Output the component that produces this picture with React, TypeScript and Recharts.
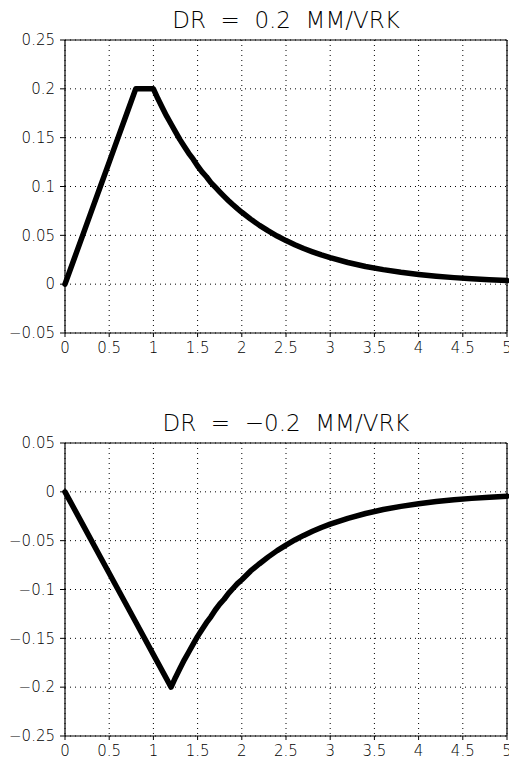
import React from "react";
import { LineChart, Line, XAxis, YAxis, CartesianGrid } from "recharts";

// upper panel: DR = 0.2
const xTop = [0, 0.1, 0.2, 0.3, 0.4, 0.5, 0.6, 0.7, 0.8, 0.9, 1.0, 1.05, 1.1, 1.15, 1.2, 1.25, 1.3, 1.35, 1.4, 1.45, 1.5, 1.55, 1.6, 1.65, 1.7, 1.75, 1.8, 1.85, 1.9, 1.95, 2.0, 2.1, 2.2, 2.3, 2.4, 2.5, 2.6, 2.7, 2.8, 2.9, 3.0, 3.2, 3.4, 3.6, 3.8, 4.0, 4.2, 4.4, 4.6, 4.8, 5.0];
const yTop = [0, 0.025, 0.05, 0.075, 0.1, 0.125, 0.15, 0.175, 0.2, 0.2, 0.2, 0.19, 0.181, 0.172, 0.164, 0.156, 0.148, 0.141, 0.134, 0.128, 0.121, 0.115, 0.11, 0.104, 0.0993, 0.0945, 0.0899, 0.0855, 0.0813, 0.0773, 0.0736, 0.0666, 0.0602, 0.0545, 0.0493, 0.0446, 0.0404, 0.0365, 0.0331, 0.0299, 0.0271, 0.0222, 0.0181, 0.0149, 0.0122, 0.01, 0.0082, 0.0067, 0.0055, 0.0045, 0.0037];

// lower panel: DR = -0.2
const xBot = [0, 0.2, 0.4, 0.6, 0.8, 1.0, 1.2, 1.25, 1.3, 1.35, 1.4, 1.45, 1.5, 1.55, 1.6, 1.65, 1.7, 1.75, 1.8, 1.85, 1.9, 1.95, 2.0, 2.1, 2.2, 2.3, 2.4, 2.5, 2.6, 2.7, 2.8, 2.9, 3.0, 3.2, 3.4, 3.6, 3.8, 4.0, 4.2, 4.4, 4.6, 4.8, 5.0];
const yBot = [0, -0.0333, -0.0667, -0.1, -0.1333, -0.1667, -0.2, -0.19, -0.181, -0.172, -0.164, -0.156, -0.148, -0.141, -0.134, -0.128, -0.121, -0.115, -0.11, -0.104, -0.099, -0.094, -0.09, -0.081, -0.0736, -0.0666, -0.0602, -0.0545, -0.0493, -0.0446, -0.0404, -0.0365, -0.0331, -0.0271, -0.0222, -0.0181, -0.0149, -0.0122, -0.01, -0.0082, -0.0067, -0.0055, -0.0045];

const xTicks = [0, 0.5, 1, 1.5, 2, 2.5, 3, 3.5, 4, 4.5, 5];
const yTicksTop = [-0.05, 0, 0.05, 0.1, 0.15, 0.2, 0.25];
const yTicksBot = [-0.25, -0.2, -0.15, -0.1, -0.05, 0, 0.05];

const xMinor = Array.from({ length: 101 }, (_, i) => i * 0.05);

const dataTop = xTop.map((x, i) => ({ x, v: yTop[i] }));
const dataBot = xBot.map((x, i) => ({ x, v: yBot[i] }));

const font = "'DejaVu Sans', sans-serif";
const fmt = (v: number) => String(Math.round(v * 1000) / 1000).replace("-", "\u2212");

const XTick = (props: any) => (
  <text x={props.x} y={props.y} dy="0.71em" textAnchor="middle" fontSize={15} fontFamily={font} fontWeight={200} fill="#000">
    {fmt(props.payload.value)}
  </text>
);
const YTick = (props: any) => (
  <text x={props.x} y={props.y} dy="0.355em" textAnchor="end" fontSize={15} fontFamily={font} fontWeight={200} fill="#000">
    {fmt(props.payload.value)}
  </text>
);

const frame = { stroke: "#000", strokeWidth: 1.2 };

function Panel({ data, yTicks, domain, height, top, title }: {
  data: { x: number; v: number }[];
  yTicks: number[];
  domain: [number, number];
  height: number;
  top: number;
  title: string;
}) {
  const yMinor = Array.from({ length: 61 }, (_, i) => domain[0] + i * 0.005);
  return (
    <div style={{ position: "relative", width: 509, height }}>
      <div
        style={{
          position: "absolute", left: 65, width: 442, top: top - 33, textAlign: "center",
          fontFamily: font, fontWeight: 200, fontSize: 23, whiteSpace: "pre", lineHeight: "26px",
        }}
      >
        {title}
      </div>
      <LineChart width={509} height={height} data={data} margin={{ top, right: 2, left: 0, bottom: 0 }}>
        <CartesianGrid stroke="#000" strokeDasharray="1 4" />
        <XAxis
          dataKey="x" type="number" domain={[0, 5]} ticks={xTicks} tick={<XTick />}
          tickSize={4} tickMargin={5} height={height - top - 296 + 3}
          axisLine={frame} tickLine={{ stroke: "#000" }} interval={0}
        />
        <XAxis
          xAxisId="bminor" orientation="bottom" mirror dataKey="x" type="number" domain={[0, 5]}
          ticks={xMinor} tick={false} tickSize={2} axisLine={false} tickLine={{ stroke: "#000" }} interval={0}
        />
        <XAxis
          xAxisId="top" orientation="top" mirror dataKey="x" type="number" domain={[0, 5]}
          ticks={xMinor} tick={false} tickSize={2} axisLine={frame} tickLine={{ stroke: "#000" }} interval={0}
        />
        <YAxis
          type="number" domain={domain} ticks={yTicks} tick={<YTick />}
          tickSize={5} tickMargin={5} width={65} axisLine={frame}
          tickLine={{ stroke: "#000" }} interval={0} allowDataOverflow
        />
        <YAxis
          yAxisId="lminor" orientation="left" mirror type="number" domain={domain} ticks={yMinor}
          tick={false} tickSize={2} axisLine={false} tickLine={{ stroke: "#000" }} interval={0}
        />
        <YAxis
          yAxisId="right" orientation="right" mirror type="number" domain={domain} ticks={yMinor}
          tick={false} tickSize={2} axisLine={frame} tickLine={{ stroke: "#000" }} interval={0}
        />
        <Line type="linear" dataKey="v" stroke="#000" strokeWidth={5.5} dot={false} isAnimationActive={false} strokeLinejoin="round" strokeLinecap="round" />
      </LineChart>
    </div>
  );
}

export default function App() {
  return (
    <div style={{ position: "fixed", left: 0, top: 0, width: 509, height: 762, background: "#fff", overflow: "hidden" }}>
      <Panel data={dataTop} yTicks={yTicksTop} domain={[-0.05, 0.25]} height={370} top={40} title={"DR  =  0.2  MM/VRK"} />
      <Panel data={dataBot} yTicks={yTicksBot} domain={[-0.25, 0.05]} height={392} top={73} title={"DR  =  \u22120.2  MM/VRK"} />
    </div>
  );
}
